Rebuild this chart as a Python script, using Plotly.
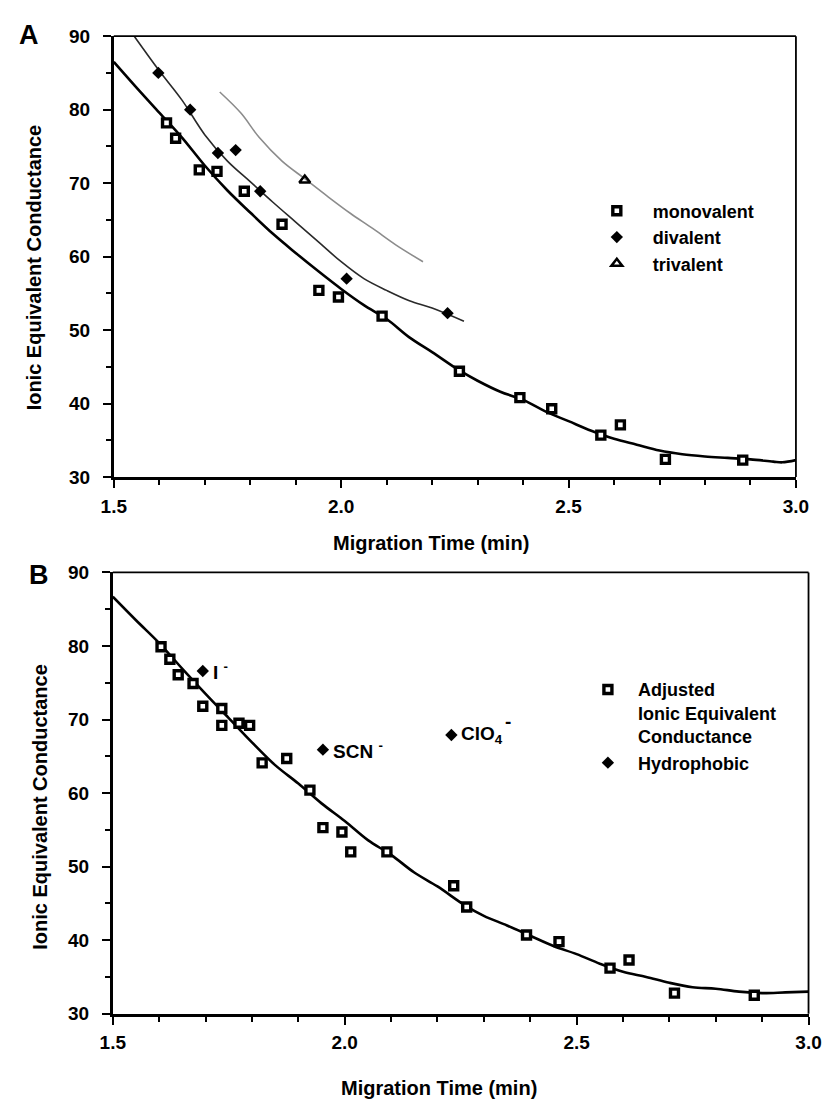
import plotly.graph_objects as go

W, H = 838, 1112
FONT = "Liberation Sans, Arial, Helvetica, sans-serif"

# ---------------- Panel A data ----------------
mono_x = [1.616, 1.636, 1.688, 1.727, 1.787, 1.870, 1.951, 1.994, 2.090,
          2.260, 2.393, 2.463, 2.571, 2.614, 2.713, 2.883]
mono_y = [78.2, 76.1, 71.8, 71.6, 68.9, 64.4, 55.4, 54.5, 51.9,
          44.4, 40.8, 39.3, 35.7, 37.1, 32.4, 32.3]
div_x = [1.598, 1.668, 1.729, 1.768, 1.822, 2.012, 2.234]
div_y = [85.0, 80.0, 74.1, 74.5, 68.9, 57.0, 52.3]
tri_x = [1.920]
tri_y = [70.4]

fitA_mono_x = [1.50, 1.55, 1.60, 1.65, 1.70, 1.75, 1.80, 1.85, 1.90, 1.95, 2.00,
               2.05, 2.10, 2.15, 2.20, 2.26, 2.30, 2.35, 2.40, 2.45, 2.50, 2.55,
               2.60, 2.65, 2.70, 2.75, 2.80, 2.85, 2.90, 2.95, 2.97, 3.00]
fitA_mono_y = [86.5, 83.0, 79.6, 76.2, 72.4, 69.0, 66.0, 63.1, 60.5, 58.0, 55.6,
               53.4, 51.5, 49.0, 47.0, 44.5, 43.1, 41.6, 40.5, 38.9, 37.6, 36.3,
               35.2, 34.4, 33.6, 33.1, 32.8, 32.6, 32.4, 32.1, 32.0, 32.3]
fitA_div_x = [1.545, 1.60, 1.65, 1.70, 1.75, 1.80, 1.85, 1.90, 1.95, 2.00,
              2.05, 2.10, 2.15, 2.20, 2.27]
fitA_div_y = [90.0, 85.3, 81.3, 76.6, 73.0, 70.2, 67.4, 64.7, 62.0, 59.3,
              57.0, 55.4, 54.0, 53.0, 51.2]
fitA_tri_x = [1.733, 1.78, 1.82, 1.87, 1.92, 1.97, 2.02, 2.07, 2.12, 2.18]
fitA_tri_y = [82.4, 79.5, 76.2, 73.0, 70.6, 68.2, 65.9, 63.8, 61.6, 59.3]

# ---------------- Panel B data ----------------
adj_x = [1.604, 1.623, 1.641, 1.673, 1.694, 1.735, 1.735, 1.772, 1.795, 1.822,
         1.875, 1.925, 1.953, 1.994, 2.013, 2.091, 2.235, 2.263, 2.392, 2.462,
         2.572, 2.613, 2.711, 2.883]
adj_y = [79.9, 78.2, 76.1, 74.9, 71.8, 71.5, 69.2, 69.5, 69.2, 64.1,
         64.7, 60.4, 55.3, 54.7, 52.0, 52.0, 47.4, 44.5, 40.7, 39.8,
         36.2, 37.3, 32.8, 32.5]
hyd_x = [1.694, 1.953, 2.230]
hyd_y = [76.6, 65.9, 67.9]
hyd_labels = ["I <sup>-</sup>", "SCN <sup>-</sup>", "ClO<sub>4</sub>"]

fitB_x = [1.50, 1.55, 1.60, 1.65, 1.70, 1.75, 1.80, 1.85, 1.90, 1.95, 2.00,
          2.05, 2.10, 2.15, 2.20, 2.26, 2.30, 2.35, 2.40, 2.45, 2.50, 2.55,
          2.60, 2.65, 2.70, 2.75, 2.80, 2.85, 2.90, 2.95, 3.00]
fitB_y = [86.7, 83.5, 80.4, 76.9, 73.5, 70.2, 66.9, 63.8, 61.3, 58.6, 56.2,
          53.6, 51.6, 49.2, 47.3, 44.7, 43.3, 42.0, 40.6, 39.2, 38.1, 36.8,
          35.7, 35.0, 34.2, 33.6, 33.4, 33.0, 32.8, 32.9, 33.0]

x_ticks = [1.5, 2.0, 2.5, 3.0]
x_ticklabels = ["1.5", "2.0", "2.5", "3.0"]
y_ticks = [30, 40, 50, 60, 70, 80, 90]

fig = go.Figure()

sq = dict(symbol="square", size=8, color="white",
          line=dict(color="black", width=3.4))
dia = dict(symbol="diamond", size=9.5, color="black", line=dict(width=0))

# Panel A
fig.add_trace(go.Scatter(x=fitA_tri_x, y=fitA_tri_y, mode="lines", line_shape="spline",
                         line=dict(color="#8c8c8c", width=1.6), showlegend=False,
                         xaxis="x", yaxis="y"))
fig.add_trace(go.Scatter(x=fitA_div_x, y=fitA_div_y, mode="lines", line_shape="spline",
                         line=dict(color="#2a2a2a", width=1.6), showlegend=False,
                         xaxis="x", yaxis="y"))
fig.add_trace(go.Scatter(x=fitA_mono_x, y=fitA_mono_y, mode="lines", line_shape="spline",
                         line=dict(color="black", width=2.6), showlegend=False,
                         xaxis="x", yaxis="y"))
fig.add_trace(go.Scatter(x=mono_x, y=mono_y, mode="markers", marker=sq,
                         name="monovalent", legend="legend", xaxis="x", yaxis="y"))
fig.add_trace(go.Scatter(x=div_x, y=div_y, mode="markers", marker=dia,
                         name="divalent", legend="legend", xaxis="x", yaxis="y"))
fig.add_trace(go.Scatter(x=tri_x, y=tri_y, mode="markers",
                         marker=dict(symbol="triangle-up-open", size=9.5, color="black",
                                     line=dict(color="black", width=2.5)),
                         name="trivalent", legend="legend", xaxis="x", yaxis="y"))

# Panel B
fig.add_trace(go.Scatter(x=fitB_x, y=fitB_y, mode="lines", line_shape="spline",
                         line=dict(color="black", width=2.6), showlegend=False,
                         xaxis="x2", yaxis="y2"))
fig.add_trace(go.Scatter(x=adj_x, y=adj_y, mode="markers", marker=sq,
                         name="Adjusted<br>Ionic Equivalent<br>Conductance",
                         legend="legend2", xaxis="x2", yaxis="y2"))
fig.add_trace(go.Scatter(x=hyd_x, y=hyd_y, mode="markers", marker=dia,
                         name="Hydrophobic", legend="legend2", xaxis="x2", yaxis="y2"))

tickfont = dict(family=FONT, size=19, color="black", weight="bold")
common_x = dict(range=[1.5, 3.0], tickvals=x_ticks, ticktext=x_ticklabels,
                ticks="outside", ticklen=8, tickwidth=2, tickcolor="black",
                showline=True, linecolor="black", linewidth=2.8, showgrid=False,
                zeroline=False, tickfont=tickfont, ticklabelstandoff=2,
                minor=dict(dtick=0.1, ticks="outside", ticklen=5, tickwidth=1.6,
                           tickcolor="black", showgrid=False))
common_y = dict(range=[30, 90], tickvals=y_ticks, ticks="outside", ticklen=8,
                tickwidth=2, tickcolor="black", showline=True, linecolor="black",
                linewidth=2.8, showgrid=False, zeroline=False, tickfont=tickfont,
                ticklabelstandoff=9,
                minor=dict(dtick=5, ticks="outside", ticklen=5, tickwidth=1.6,
                           tickcolor="black", showgrid=False))

def px_x(p):
    return p / W

def px_y(p):
    return 1 - p / H

legfont = dict(family=FONT, size=18, color="black", weight="bold")
fig.update_layout(
    width=W, height=H, margin=dict(l=0, r=0, t=0, b=0),
    paper_bgcolor="white", plot_bgcolor="white",
    font=dict(family=FONT, size=19, color="black", weight="bold"),
    xaxis=dict(domain=[px_x(104), px_x(808)], anchor="y", **common_x),
    yaxis=dict(domain=[px_y(476), px_y(26.7)], anchor="x", **common_y),
    xaxis2=dict(domain=[px_x(103), px_x(821)], anchor="y2", **common_x),
    yaxis2=dict(domain=[px_y(1023), px_y(573.3)], anchor="x2", **common_y),
    legend=dict(x=px_x(586), y=px_y(186), xanchor="left", yanchor="top",
                bgcolor="rgba(0,0,0,0)", borderwidth=0, itemwidth=62,
                font=legfont, tracegroupgap=0),
    legend2=dict(x=px_x(583), y=px_y(674), xanchor="left", yanchor="top",
                 bgcolor="rgba(0,0,0,0)", borderwidth=0, itemwidth=50, valign="top",
                 font=legfont, tracegroupgap=0),
    showlegend=True,
)

# Box (top / right) lines, thinner than the axes
for xa, ya in (("x", "y"), ("x2", "y2")):
    fig.add_shape(type="line", xref=f"{xa} domain", yref=f"{ya} domain",
                  x0=0, x1=1, y0=1, y1=1, line=dict(color="black", width=1.8))
    fig.add_shape(type="line", xref=f"{xa} domain", yref=f"{ya} domain",
                  x0=1, x1=1, y0=0, y1=1, line=dict(color="black", width=1.8))

ann = []
lab = dict(family=FONT, size=19, color="black", weight="bold")
ttl = dict(family=FONT, size=20, color="black", weight="bold")
C = dict(xanchor="center", yanchor="middle", showarrow=False,
         xref="paper", yref="paper")
# panel letters
ann.append(dict(text="A", x=px_x(17), y=px_y(25),
                font=dict(family=FONT, size=27, color="black", weight="bold"), **C))
ann.append(dict(text="B", x=px_x(27), y=px_y(576),
                font=dict(family=FONT, size=27, color="black", weight="bold"), **C))
# axis titles
ann.append(dict(text="Ionic Equivalent Conductance", x=px_x(22), y=px_y(262),
                textangle=-90, font=ttl, **C))
ann.append(dict(text="Ionic Equivalent Conductance", x=px_x(28), y=px_y(812),
                textangle=-90, font=ttl, **C))
ann.append(dict(text="Migration Time (min)", x=px_x(431), y=px_y(543), font=ttl, **C))
ann.append(dict(text="Migration Time (min)", x=px_x(440), y=px_y(1099), font=ttl, **C))
# ion labels in panel B
for xv, yv, t in zip(hyd_x, hyd_y, hyd_labels):
    ann.append(dict(text=t, x=xv, y=yv, xref="x2", yref="y2", xanchor="left",
                    yanchor="middle", xshift=8, showarrow=False, font=lab))
ann.append(dict(text="-", x=hyd_x[2], y=hyd_y[2], xref="x2", yref="y2",
                xanchor="left", yanchor="middle", xshift=52, yshift=13,
                showarrow=False, font=lab))
fig.update_layout(annotations=ann)

fig.write_html("out.html")
